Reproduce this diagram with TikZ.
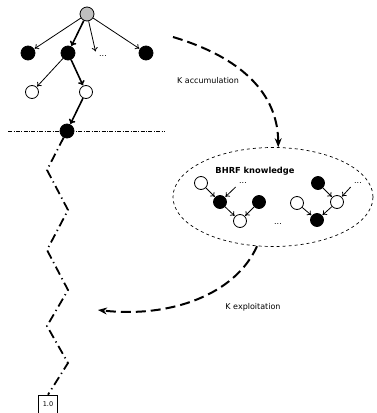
\documentclass[tikz,border=0pt]{standalone}
\usepackage{fontspec}
\setmainfont{DejaVu Sans}
\usetikzlibrary{arrows.meta,shapes.geometric}

\tikzset{
  blk/.style={circle,draw,fill=black,inner sep=0pt,minimum size=14pt,line width=0.8pt},
  wht/.style={circle,draw,fill=white,inner sep=0pt,minimum size=13pt,line width=0.8pt},
  gry/.style={circle,draw,fill=black!25,inner sep=0pt,minimum size=14pt,line width=0.8pt},
  thinarr/.style={-{To[length=4pt,width=6pt]},line width=0.8pt,shorten >=0.5pt},
  thickarr/.style={-{To[length=4.5pt,width=7pt]},line width=1.6pt,shorten >=0.5pt},
  bigarr/.style={-{Stealth[length=9pt,width=7pt]},line width=2pt,dash pattern=on 10pt off 5pt},
  zig/.style={line width=1.8pt,dash pattern=on 9pt off 4pt on 1.2pt off 4pt},
  cut/.style={line width=0.7pt,dash pattern=on 4pt off 1.5pt on 0.8pt off 1.5pt},
  lbl/.style={font=\fontsize{8}{9}\selectfont},
  kb/.style={minimum size=13pt},
}

\begin{document}
\begin{tikzpicture}[x=1pt,y=-1pt]
  \useasboundingbox (0,0) rectangle (376,413);

  \coordinate (cutL) at (8,131);
  \coordinate (cutR) at (165,131);
  \draw[cut] (cutL) -- (cutR);

  % search tree
  \node[gry] (root) at (87,14) {};
  \node[blk] (a1) at (28,53) {};
  \node[blk] (a2) at (68,53) {};
  \node[lbl] (adots) at (103,56) {...};
  \node[blk] (a4) at (146,53) {};
  \node[wht] (b1) at (32,92) {};
  \node[wht] (b2) at (86,92) {};
  \node[blk] (c1) at (67,131) {};
  \node[draw,line width=0.6pt,minimum width=19pt,minimum height=18pt,inner sep=0pt,font=\fontsize{6.5}{7}\selectfont] (res) at (48,404) {1.0};

  \draw[thinarr] (root) -- (a1);
  \draw[thickarr] (root) -- (a2);
  \draw[thinarr] (root) -- (adots.north west);
  \draw[thinarr] (root) -- (a4);
  \draw[thinarr] (a2) -- (b1);
  \draw[thickarr] (a2) -- (b2);
  \draw[thickarr] (b2) -- (c1);

  \draw[zig] (c1) -- (47,170) -- (68,210) -- (47,250) -- (68,290) -- (47,326) -- (68,363) -- (res.north);

  % knowledge base
  \node[ellipse,draw,dashed,line width=0.7pt,minimum width=200pt,minimum height=99pt] (know) at (273,197) {};
  \node[lbl,font=\fontsize{8.3}{9}\selectfont\bfseries] (title) at (255,171) {BHRF knowledge};

  \node[wht,kb] (k1) at (201,183) {};
  \node[blk,kb] (k2) at (220,202) {};
  \node[blk,kb] (k3) at (259,202) {};
  \node[wht,kb] (k4) at (240,221) {};
  \node[lbl] (kdots) at (243,183) {...};
  \draw[thinarr] (k1) -- (k2);
  \draw[thinarr] (kdots.south west) -- (k2);
  \draw[thinarr] (k2) -- (k4);
  \draw[thinarr] (k3) -- (k4);

  \node[lbl] (mdots) at (278,224) {...};

  \node[blk,kb] (m1) at (318,183) {};
  \node[wht,kb] (m2) at (297,203) {};
  \node[wht,kb] (m3) at (337,202) {};
  \node[blk,kb] (m4) at (317,220) {};
  \node[lbl] (ndots) at (358,183) {...};
  \draw[thinarr] (m1) -- (m3);
  \draw[thinarr] (ndots.south west) -- (m3);
  \draw[thinarr] (m2) -- (m4);
  \draw[thinarr] (m3) -- (m4);

  % accumulation / exploitation
  \coordinate (acc) at (173,37);
  \coordinate (expl) at (98,310);
  \draw[bigarr] (acc) .. controls (250,60) and (278,100) .. (know.84);
  \node[lbl] (acclbl) at (208,81) {K accumulation};
  \draw[bigarr] (know.252) .. controls (235,295) and (170,318) .. (expl);
  \node[lbl] (expllbl) at (253,307) {K exploitation};
\end{tikzpicture}
\end{document}
